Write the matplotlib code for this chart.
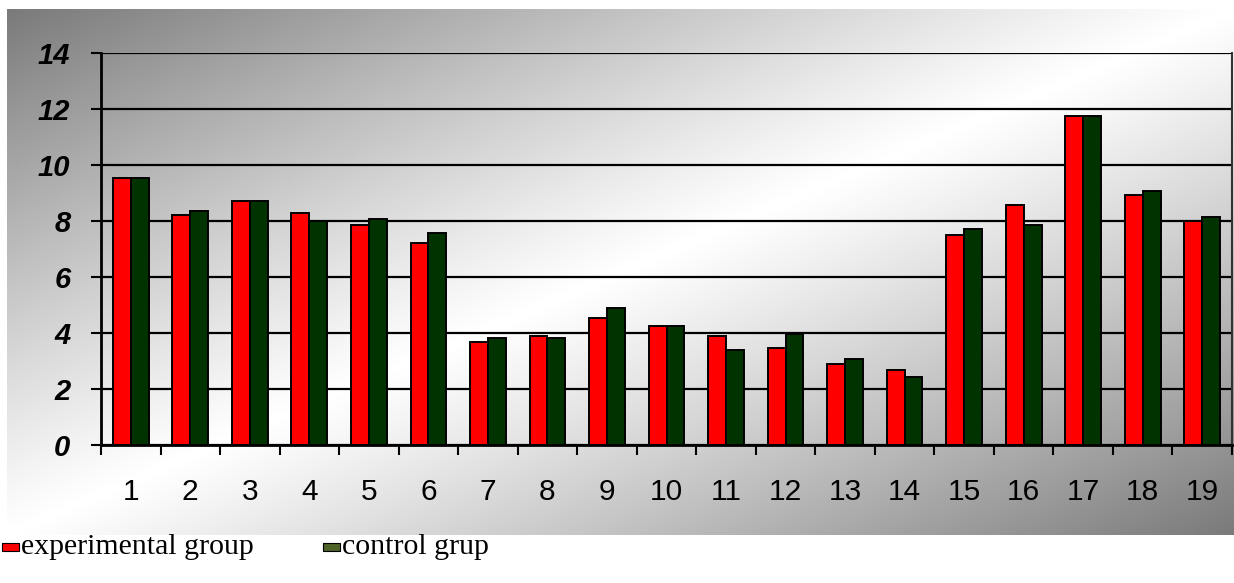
import numpy as np
import matplotlib.pyplot as plt
from matplotlib.patches import Rectangle

categories = [str(i) for i in range(1, 20)]
experimental = [9.55, 8.2, 8.7, 8.29, 7.86, 7.21, 3.69, 3.9, 4.55, 4.25,
                3.9, 3.48, 2.9, 2.69, 7.5, 8.57, 11.76, 8.92, 7.99]
control = [9.55, 8.36, 8.7, 8.0, 8.07, 7.58, 3.83, 3.83, 4.89, 4.25,
           3.4, 3.96, 3.06, 2.43, 7.73, 7.87, 11.76, 9.07, 8.14]
y_ticks = [0, 2, 4, 6, 8, 10, 12, 14]
legend_labels = ["experimental group", "control grup"]

W, H = 1234, 583
fig = plt.figure(figsize=(W / 100, H / 100), dpi=100)

# diagonal grey-white-grey gradient behind the chart
bg = fig.add_axes([7 / W, 1 - 535 / H, (W - 7) / W, (535 - 9) / H], zorder=-1)
gx, gy = np.meshgrid(np.linspace(0, 1, 400), np.linspace(0, 1, 200))
t = (gx + gy) / 2
grad = 1 - 0.52 * np.abs(2 * t - 1) ** 1.1
bg.imshow(grad, cmap="gray", vmin=0, vmax=1, aspect="auto", extent=[0, 1, 1, 0])
bg.axis("off")

ax = fig.add_axes([101 / W, 1 - 445 / H, (1232 - 101) / W, (445 - 53) / H])
ax.patch.set_alpha(0)

x = np.arange(1, len(categories) + 1)
w = 0.3
ax.bar(x - w / 2, experimental, w, color="#ff0000", edgecolor="black", linewidth=1.4, zorder=3)
ax.bar(x + w / 2, control, w, color="#003300", edgecolor="black", linewidth=1.4, zorder=3)

ax.set_xlim(0.5, len(categories) + 0.5)
ax.set_ylim(0, 14)
ax.set_yticks(y_ticks)
ax.set_yticklabels([str(v) for v in y_ticks], fontsize=21, fontweight="bold",
                   fontstyle="italic", family="Liberation Sans")
ax.yaxis.grid(True, color="black", linewidth=1.6, zorder=1)
ax.set_axisbelow(True)

ax.set_xticks(np.arange(0.5, len(categories) + 1, 1))
ax.set_xticklabels([])
ax.set_xticks(x, minor=True)
ax.set_xticklabels(categories, minor=True, fontsize=21.5, family="Liberation Sans")
ax.tick_params(axis="x", which="major", direction="out", length=7, width=1.5)
ax.tick_params(axis="x", which="minor", length=0, pad=24)
ax.tick_params(axis="y", direction="out", length=7, width=1.5, pad=15)

for s in ["left", "bottom"]:
    ax.spines[s].set_linewidth(2)
    ax.spines[s].set_color("black")
ax.spines["top"].set_visible(False)
ax.spines["right"].set_color("#333333")
ax.spines["right"].set_linewidth(1.5)

# legend below the chart
leg_colors = ["#ff0000", "#4f6228"]
leg_x = [2, 323]
for lx, col, lab in zip(leg_x, leg_colors, legend_labels):
    fig.patches.append(Rectangle((lx / W, 1 - 551 / H), 17 / W, 8 / H, transform=fig.transFigure,
                                 facecolor=col, edgecolor="black", linewidth=0.8))
    fig.text((lx + 19) / W, 1 - 547 / H, lab, fontsize=21.5, family="Liberation Serif",
             va="center", ha="left")

fig.savefig("out.png", dpi=100)
